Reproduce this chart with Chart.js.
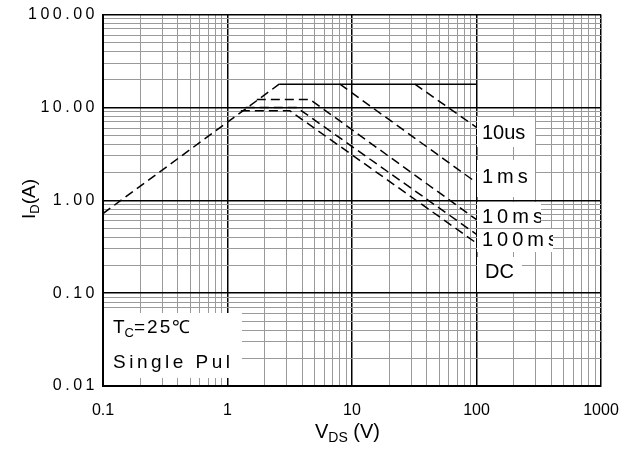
<!DOCTYPE html>
<html lang="en">
<head>
  <meta charset="UTF-8" />
  <title>Safe Operating Area</title>
  <style>
    body { margin: 0; background: #fff; }
    #wrap { width: 635px; height: 452px; }
  </style>
</head>
<body>
  <div id="wrap"><canvas id="soa" width="635" height="452"></canvas></div>

  <script src="https://cdn.jsdelivr.net/npm/chart.js"></script>
  <script>
    // axis decades and their labels
    const xMajor = [0.1, 1, 10, 100, 1000];
    const xMajorLabels = ['0.1', '1', '10', '100', '1000'];
    const yMajor = [0.01, 0.1, 1, 10, 100];
    const yMajorLabels = ['0.01', '0.10', '1.00', '10.00', '100.00'];
    const minorSteps = [2, 3, 4, 5, 6, 7, 8, 9];

    // SOA boundary corner points, VDS (V) / ID (A)
    const riseV = [0.1, 2.6];            const riseI = [0.72, 17.8];
    const limitV = [2.6, 100];           const limitI = [17.8, 17.8];
    const us10V = [32, 100];             const us10I = [17.8, 6.1];
    const ms1V = [8, 100];               const ms1I = [17.8, 1.55];
    const ms10V = [1.72, 4.6, 100];      const ms10I = [12.2, 12.2, 0.62];
    const ms100V = [1.4, 3.6, 100];      const ms100I = [10, 10, 0.43];
    const dcV = [1.28, 3.17, 100];       const dcI = [9.2, 9.2, 0.346];

    const curveLabels = ['10us', '1ms', '10ms', '100ms', 'DC'];

    const FONT = 'Arial, "Liberation Sans", sans-serif';

    function pts(vs, is) {
      return vs.map((v, i) => ({ x: v, y: is[i] }));
    }

    function buildTicks(majors) {
      const t = [];
      majors.forEach((m, i) => {
        t.push({ value: m, major: true });
        if (i < majors.length - 1) {
          minorSteps.forEach(k => t.push({ value: m * k, major: false }));
        }
      });
      return t;
    }

    function line(data, dashed) {
      return {
        data: data,
        showLine: true,
        borderColor: '#000',
        borderWidth: 1.5,
        borderDash: dashed ? [9, 5] : [],
        pointRadius: 0,
        fill: false
      };
    }

    function run(ctx, parts, x, y) {
      let cx = x;
      parts.forEach(p => {
        ctx.font = p[1] + 'px ' + FONT;
        ctx.letterSpacing = (p[3] || 0) + 'px';
        ctx.fillText(p[0], cx, y + (p[2] || 0));
        cx += ctx.measureText(p[0]).width;
      });
      return cx - x;
    }

    // y tick labels are letter-spaced in the original
    const spacing = {
      id: 'spacing',
      beforeDraw(chart) { chart.ctx.letterSpacing = '0px'; },
      afterDatasetsDraw(chart) { chart.ctx.letterSpacing = '3.5px'; }
    };

    const notes = {
      id: 'notes',
      afterDraw(chart) {
        const ctx = chart.ctx;
        ctx.save();
        ctx.textBaseline = 'alphabetic';
        ctx.textAlign = 'left';
        ctx.fillStyle = '#000';

        // curve labels on white patches
        const boxes = [
          [482, 139, 477, 117, 535, 147, 0],
          [482, 183, 477, 160, 535, 197, 4],
          [482, 223, 477, 202, 541, 228, 4],
          [482, 246, 477, 229, 553, 252, 4],
          [485, 278, 477, 257, 522, 292, 0]
        ];
        curveLabels.forEach((txt, i) => {
          const b = boxes[i];
          ctx.save();
          ctx.fillStyle = '#fff';
          ctx.fillRect(b[2], b[3], b[4] - b[2], b[5] - b[3]);
          ctx.beginPath();
          ctx.rect(b[2], b[3], b[4] - b[2], b[5] - b[3]);
          ctx.clip();
          ctx.fillStyle = '#000';
          run(ctx, [[txt, 20, 0, b[6]]], b[0], b[1]);
          ctx.restore();
        });

        // test condition box
        ctx.fillStyle = '#fff';
        ctx.fillRect(104, 313, 138, 65);
        ctx.fillStyle = '#000';
        run(ctx, [['T', 19, 0, 0], ['C', 13, 4, 0], ['=25', 19, 0, 2], ['℃', 18, 0, 0]], 113, 333);
        run(ctx, [['Single Pul', 19, 0, 3.5]], 113, 368);

        // axis titles
        run(ctx, [['V', 20, 0, 0], ['DS', 14, 4, 0], [' (V)', 20, 0, 0]], 315, 438);
        ctx.save();
        ctx.translate(35, 219);
        ctx.rotate(-Math.PI / 2);
        run(ctx, [['I', 19, 0, 0], ['D', 13, 4, 0], ['(A)', 19, 0, 0]], 0, 0);
        ctx.restore();

        ctx.restore();
      }
    };

    new Chart(document.getElementById('soa'), {
      type: 'scatter',
      data: {
        datasets: [
          line(pts(riseV, riseI), true),
          line(pts(limitV, limitI), false),
          line(pts(us10V, us10I), true),
          line(pts(ms1V, ms1I), true),
          line(pts(ms10V, ms10I), true),
          line(pts(ms100V, ms100I), true),
          line(pts(dcV, dcI), true)
        ]
      },
      options: {
        responsive: false,
        animation: false,
        layout: { padding: { left: 0, top: 11, right: 34, bottom: 0 } },
        plugins: {
          legend: { display: false },
          tooltip: { enabled: false }
        },
        scales: {
          x: {
            type: 'logarithmic',
            min: 0.1,
            max: 1000,
            afterBuildTicks: s => { s.ticks = buildTicks(xMajor); },
            afterFit: s => { s.height = 66; },
            grid: {
              drawTicks: false,
              color: c => (c.tick && c.tick.major ? '#000' : '#9a9a9a'),
              lineWidth: c => (c.tick && c.tick.major ? 1.5 : 1)
            },
            border: { color: '#000', width: 2 },
            ticks: {
              autoSkip: false,
              maxRotation: 0,
              padding: 15,
              color: '#000',
              font: { family: FONT, size: 16 },
              callback: v => {
                const k = xMajor.indexOf(v);
                return k >= 0 ? xMajorLabels[k] : '';
              }
            }
          },
          y: {
            type: 'logarithmic',
            min: 0.01,
            max: 100,
            afterBuildTicks: s => { s.ticks = buildTicks(yMajor); },
            afterFit: s => { s.width = 103; },
            grid: {
              drawTicks: false,
              color: c => (c.tick && c.tick.major ? '#000' : '#9a9a9a'),
              lineWidth: c => (c.tick && c.tick.major ? 1.5 : 1)
            },
            border: { color: '#000', width: 2 },
            ticks: {
              z: 1,
              autoSkip: false,
              padding: 5,
              color: '#000',
              font: { family: FONT, size: 16 },
              callback: v => {
                const k = yMajor.indexOf(v);
                return k >= 0 ? yMajorLabels[k] : '';
              }
            }
          }
        }
      },
      plugins: [spacing, notes]
    });
  </script>
</body>
</html>
